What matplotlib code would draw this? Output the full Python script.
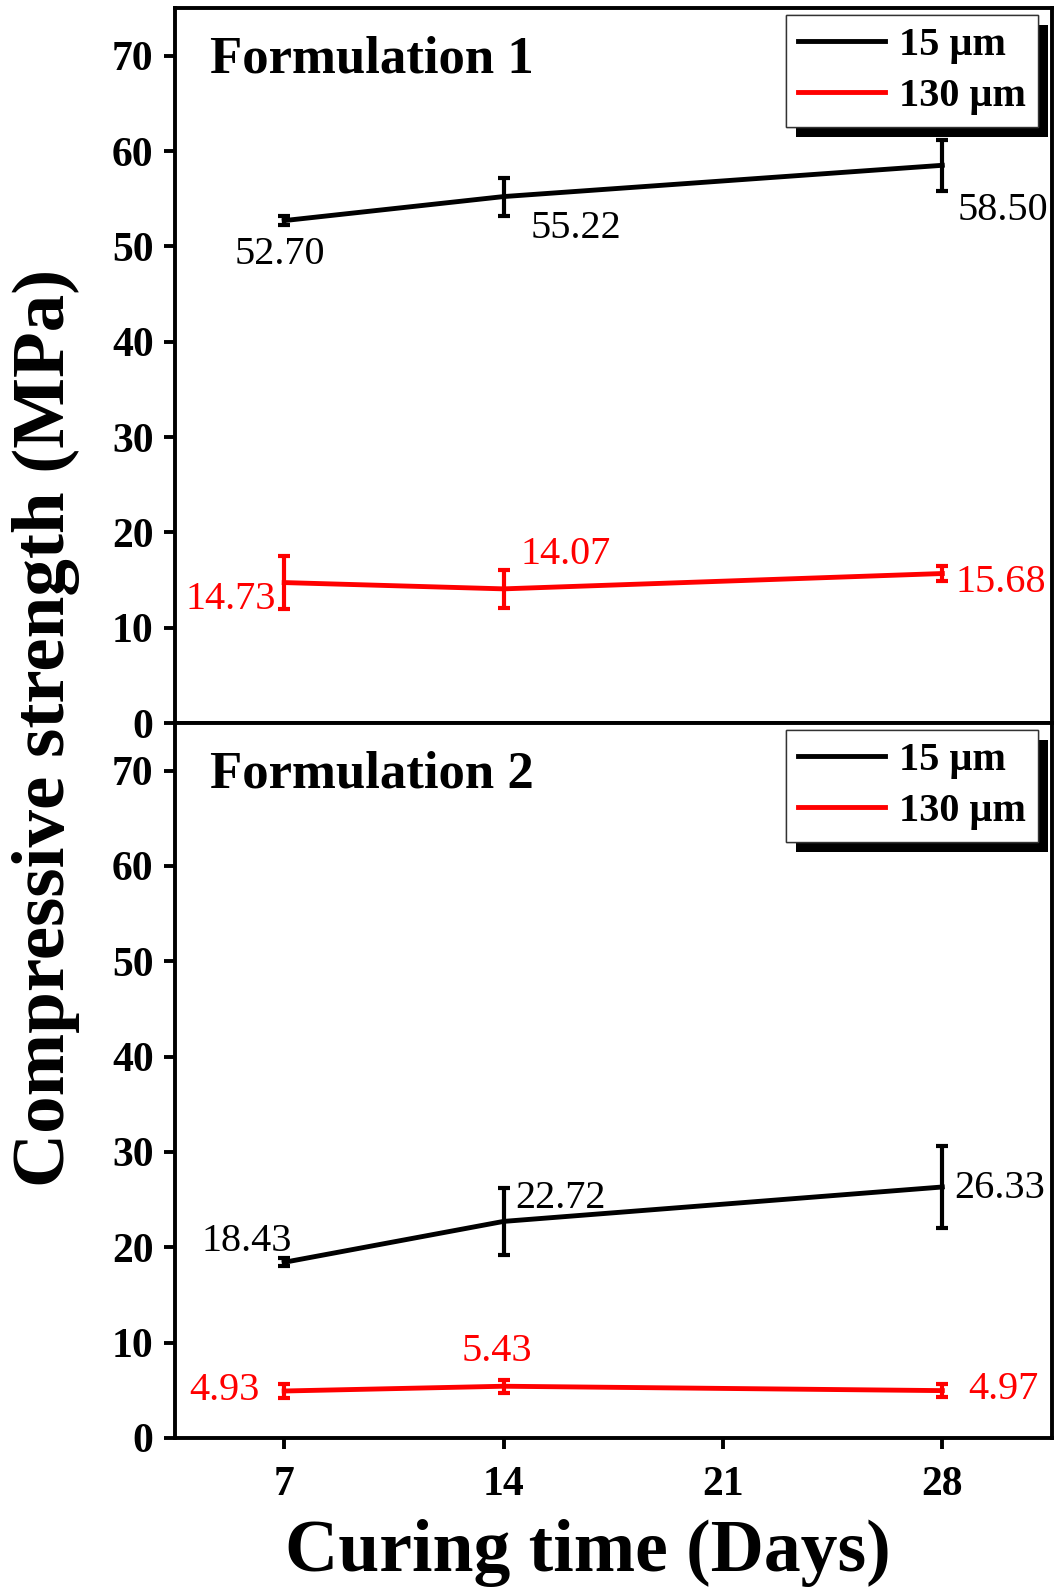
import matplotlib
matplotlib.use('Agg')
import matplotlib.pyplot as plt
from matplotlib import patheffects
import numpy as np

plt.rcParams['font.family'] = ['Liberation Serif', 'DejaVu Serif']

# Data
days = [7, 14, 28]
f1_15 = [52.70, 55.22, 58.50]
f1_15_err = [0.5, 2.0, 2.7]
f1_130 = [14.73, 14.07, 15.68]
f1_130_err = [2.8, 2.0, 0.8]
f2_15 = [18.43, 22.72, 26.33]
f2_15_err = [0.4, 3.5, 4.3]
f2_130 = [4.93, 5.43, 4.97]
f2_130_err = [0.7, 0.7, 0.7]

series_labels = ['15 \u03bcm', '130 \u03bcm']
series_colors = ['black', '#ff0000']
panel_titles = ['Formulation 1', 'Formulation 2']

# label offsets (pixels) from each point, per panel / series
offsets_top = [[(-4, -34), (72, -32), (61, -45)],
               [(-53, -17), (62, 34), (59, -9)]]
offsets_bot = [[(-37, 21), (57, 23), (57, -2)],
               [(-60, 1), (-7, 35), (61, 1)]]

fig = plt.figure(figsize=(10.55, 15.9), dpi=100)
left, right = 174.5 / 1055, 1052 / 1055
h = 715 / 1590
ax_top = fig.add_axes([left, 1 - 723 / 1590, right - left, h])
ax_bot = fig.add_axes([left, 1 - 1438 / 1590, right - left, h])

panels = [
    (ax_top, [(f1_15, f1_15_err), (f1_130, f1_130_err)], offsets_top, panel_titles[0]),
    (ax_bot, [(f2_15, f2_15_err), (f2_130, f2_130_err)], offsets_bot, panel_titles[1]),
]

for ax, series, offs, title in panels:
    handles = []
    for (vals, errs), col, lab, off in zip(series, series_colors, series_labels, offs):
        eb = ax.errorbar(days, vals, yerr=errs, color=col, lw=3.5, elinewidth=3,
                         capsize=4.5, capthick=3, label=lab)
        handles.append(eb.lines[0])
        for d, v, (dx, dy) in zip(days, vals, off):
            ax.annotate(f'{v:.2f}', xy=(d, v), xytext=(dx, dy),
                        textcoords='offset pixels', ha='center', va='center',
                        fontsize=29, color=col)
    ax.set_xlim(3.5, 31.5)
    ax.set_ylim(0, 75)
    ax.set_yticks(np.arange(0, 71, 10))
    ax.set_xticks([7, 14, 21, 28])
    for sp in ax.spines.values():
        sp.set_linewidth(2.8)
    ax.tick_params(axis='both', which='major', direction='out', length=8,
                   width=2.8, labelsize=30, pad=7)
    ax.tick_params(axis='x', pad=12)
    for t in ax.get_yticklabels() + ax.get_xticklabels():
        t.set_fontweight('bold')
    ax.text(0.04, 0.928, title, transform=ax.transAxes, fontsize=38,
            fontweight='bold', ha='left', va='center')
    leg = ax.legend(handles, series_labels, loc='upper right',
                    bbox_to_anchor=(0.984, 0.99), borderaxespad=0,
                    prop={'weight': 'bold', 'size': 29}, fancybox=False,
                    framealpha=1, edgecolor='#333333', handlelength=2.15,
                    handletextpad=0.35, borderpad=0.3, labelspacing=0.33)
    leg.get_frame().set_linewidth(1.0)
    leg.get_frame().set_path_effects([
        patheffects.withSimplePatchShadow(offset=(7, -7), shadow_rgbFace='black', alpha=1),
        patheffects.Normal()])
    for ln in leg.get_lines():
        ln.set_linewidth(3.5)

ax_top.tick_params(axis='x', which='both', bottom=False, labelbottom=False)

fig.text(46 / 1055, 1 - 728 / 1590, 'Compressive strength (MPa)', rotation=90,
         ha='center', va='center', fontsize=54, fontweight='bold')
fig.text(588 / 1055, 1 - 1553 / 1590, 'Curing time (Days)',
         ha='center', va='center', fontsize=53, fontweight='bold')

fig.savefig('out.png', dpi=100)
